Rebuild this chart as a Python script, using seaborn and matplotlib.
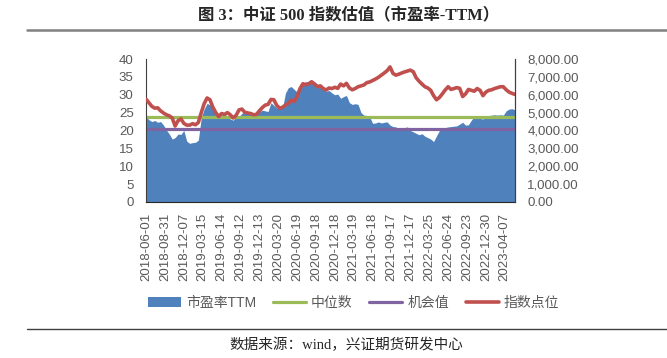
import numpy as np
import pandas as pd
import matplotlib
matplotlib.use("Agg")
import matplotlib.pyplot as plt
from matplotlib.lines import Line2D
from matplotlib.patches import Patch
from matplotlib.ticker import FuncFormatter
import seaborn as sns

# data (one point every two weeks, 2018-06 .. 2023-05)
pe_ttm = [23.9, 23.0, 22.5, 22.8, 22.3, 22.5, 21.5, 20.1, 19.0, 17.6,
          18.0, 19.0, 18.9, 20.0, 17.0, 16.4, 16.6, 16.7, 17.3, 23.6,
          26.0, 27.6, 27.2, 26.2, 25.3, 24.4, 24.3, 24.5, 24.0, 23.2,
          22.9, 23.8, 23.9, 24.8, 25.3, 25.0, 25.2, 24.8, 25.0, 25.2,
          25.7, 25.5, 25.3, 27.8, 27.0, 26.3, 26.2, 26.4, 30.5, 32.0,
          32.3, 31.5, 30.8, 31.6, 33.2, 33.7, 33.4, 33.2, 33.6, 33.0,
          32.3, 31.8, 31.0, 31.2, 30.5, 30.0, 30.2, 29.0, 29.5, 29.8,
          27.8, 27.3, 27.5, 27.3, 25.0, 24.3, 24.2, 23.8, 22.0, 22.1,
          22.4, 22.1, 22.3, 22.4, 21.5, 21.1, 21.0, 20.5, 20.2, 20.8,
          21.0, 20.0, 19.6, 19.2, 18.8, 19.1, 18.4, 18.0, 17.6, 16.9,
          18.5, 20.0, 20.5, 20.8, 21.0, 21.1, 21.2, 21.3, 21.8, 22.3,
          21.5, 21.6, 22.9, 23.9, 23.5, 23.4, 23.2, 24.1, 24.2, 24.3,
          24.4, 24.3, 24.4, 24.3, 25.5, 26.0, 26.1, 25.8]

index_pts = [5750, 5550, 5350, 5250, 5270, 5100, 4980, 4880, 4820, 4700,
             4250, 4550, 4650, 4400, 4300, 4300, 4380, 4320, 4450, 5000,
             5500, 5820, 5720, 5300, 5000, 4780, 4950, 4900, 5000, 4880,
             4700, 4850, 5150, 5200, 5020, 4980, 4950, 4880, 4900, 5100,
             5280, 5420, 5460, 5740, 5720, 5400, 5250, 5300, 5430, 5520,
             5700, 5620, 5900, 6350, 6620, 6560, 6620, 6730, 6600, 6450,
             6500, 6350, 6270, 6380, 6350, 6420, 6360, 6600, 6500, 6640,
             6380, 6280, 6350, 6450, 6500, 6550, 6680, 6720, 6800, 6880,
             6980, 7100, 7220, 7350, 7560, 7200, 7100, 7150, 7220, 7280,
             7330, 7380, 7290, 6950, 6760, 6600, 6450, 6380, 6250, 5950,
             5720, 5850, 6050, 6270, 6450, 6300, 6350, 6400, 6360, 5900,
             6050, 6300, 6250, 6200, 6350, 6250, 5950, 6150, 6250, 6280,
             6350, 6400, 6450, 6450, 6280, 6150, 6080, 6020]

median_pe = 23.7
chance_pe = 20.3

date_labels = ["2018-06-01", "2018-08-31", "2018-12-07", "2019-03-15", "2019-06-14",
               "2019-09-12", "2019-12-13", "2020-03-20", "2020-06-19", "2020-09-18",
               "2020-12-18", "2021-03-19", "2021-06-18", "2021-09-17", "2021-12-17",
               "2022-03-25", "2022-06-24", "2022-09-23", "2022-12-30", "2023-04-07"]

df = pd.DataFrame({"pe": pe_ttm, "idx": index_pts})
df["x"] = np.arange(len(df))
df["median"] = median_pe
df["chance"] = chance_pe

blue = "#4F81BD"
green = "#9BBB59"
purple = "#8064A2"
red = "#C0504D"
grey = "#595959"

sns.set_style("white")
plt.rcParams["font.family"] = ["Liberation Sans", "Noto Sans CJK SC"]

fig = plt.figure(figsize=(6.67, 3.58), dpi=100)
ax = fig.add_axes([0.219, 0.436, 0.553, 0.399])

ax.fill_between(df["x"], df["pe"], 0, color=blue, linewidth=0)
sns.lineplot(data=df, x="x", y="median", ax=ax, color=green, linewidth=2.3)
sns.lineplot(data=df, x="x", y="chance", ax=ax, color=purple, linewidth=2.3)

ax2 = ax.twinx()
sns.lineplot(data=df, x="x", y="idx", ax=ax2, color=red, linewidth=2.6)

ax.set_xlim(0, len(df) - 1)
ax.set_ylim(0, 40)
ax.set_yticks(np.arange(0, 41, 5))
ax2.set_ylim(0, 8000)
ax2.set_yticks(np.arange(0, 8001, 1000))
ax2.yaxis.set_major_formatter(FuncFormatter(lambda v, p: f"{v:,.2f}"))

# one label per 13 weeks, data is every 2 weeks
ax.set_xticks(np.arange(len(date_labels)) * 6.5)
ax.set_xticklabels(date_labels, rotation=90)

for a in (ax, ax2):
    a.set_xlabel("")
    a.set_ylabel("")
    a.tick_params(length=0, labelsize=9.5, labelcolor=grey)
    a.spines["top"].set_visible(False)
ax.tick_params(axis="y", pad=9)
ax.tick_params(axis="x", pad=8)
ax2.tick_params(axis="y", pad=9)
ax.spines["left"].set_color("#404040")
ax.spines["bottom"].set_color("#262626")
ax2.spines["right"].set_color("#404040")
ax2.spines["left"].set_visible(False)
ax2.spines["bottom"].set_visible(False)

handles = [Patch(facecolor=blue, edgecolor="none"),
           Line2D([], [], color=green, linewidth=2.3),
           Line2D([], [], color=purple, linewidth=2.3),
           Line2D([], [], color=red, linewidth=2.6)]
labels = ["市盈率TTM", "中位数", "机会值", "指数点位"]
fig.legend(handles, labels, loc="center", bbox_to_anchor=(0.53, 0.154), ncol=4,
           frameon=False, fontsize=10, labelcolor=grey, handlelength=2.4,
           handletextpad=0.35, columnspacing=1.2)

fig.text(0.523, 0.958, "图 3：中证 500 指数估值（市盈率-TTM）", ha="center", va="center",
         fontsize=11.8, fontweight="bold", family=["Liberation Serif", "Noto Sans CJK SC"])
fig.add_artist(Line2D([0.04, 1.0], [0.916, 0.916], color="#808080", linewidth=1.8))
fig.add_artist(Line2D([0.04, 1.0], [0.081, 0.081], color="#404040", linewidth=1.0))
fig.text(0.52, 0.036, "数据来源：wind，兴证期货研发中心", ha="center", va="center",
         fontsize=10.5, family=["Liberation Serif", "Noto Sans CJK SC"])

fig.savefig("out.png", dpi=100)
